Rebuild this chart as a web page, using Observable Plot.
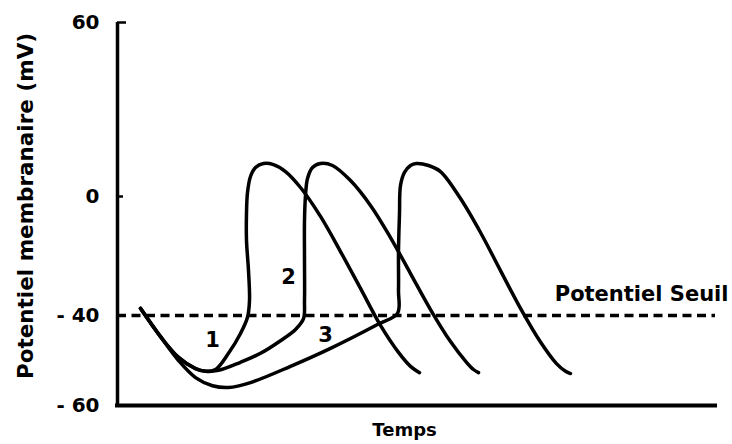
<!DOCTYPE html>
<html>
<head>
<meta charset="utf-8">
<script src="https://cdn.jsdelivr.net/npm/d3@7"></script>
<script src="https://cdn.jsdelivr.net/npm/@observablehq/plot@0.6"></script>
<style>
  html, body { margin: 0; padding: 0; background: white; }
</style>
</head>
<body>
<script>
// Time (arbitrary units) and membrane potential (mV) for the three curves
const time1 = [23, 43, 61, 78, 88, 98, 111, 123, 130, 132, 131, 129, 129, 130, 133, 138, 146, 156, 168, 183, 203, 223, 243, 263, 281, 293, 302];
const volt1 = [-37.6, -44.7, -49.3, -51.8, -52.4, -52.0, -48.4, -44.0, -40.4, -35.0, -24.9, -14.8, -5.7, 1.4, 6.9, 10.0, 11.4, 11.0, 8.6, 3.1, -6.7, -18.5, -30.9, -42.2, -48.2, -51.3, -52.7];

const time2 = [23, 43, 61, 78, 88, 101, 123, 143, 163, 178, 186, 187, 187, 187, 188, 190, 195, 203, 215, 233, 253, 273, 293, 313, 333, 349, 356, 361];
const volt2 = [-37.6, -44.7, -49.3, -51.8, -52.4, -52.2, -50.4, -48.4, -45.6, -43.1, -40.7, -35.0, -21.5, -8.1, 0.3, 6.2, 10.0, 11.4, 10.7, 5.5, -3.0, -13.8, -25.9, -38.0, -45.8, -50.4, -52.0, -52.7];

const time3 = [23, 43, 61, 78, 95, 111, 133, 173, 213, 260, 280, 281, 281, 282, 283, 287, 293, 299, 311, 323, 343, 363, 383, 403, 423, 439, 448, 453];
const volt3 = [-37.6, -44.7, -50.0, -53.8, -55.6, -56.0, -54.9, -51.3, -47.3, -42.0, -39.3, -31.6, -18.2, -5.7, 3.8, 8.3, 10.7, 11.4, 10.7, 8.6, -0.7, -12.1, -24.9, -37.6, -45.9, -50.7, -52.4, -52.9];

// Curve labels
const curveNames = ["1", "2", "3"];
const curveLabelT = [95, 171, 208];
const curveLabelV = [-45.6, -27.2, -44.4];

// Axis ticks (the original axis is not evenly spaced)
const yTicks = [-60, -40, 0, 60];
const yTickLabels = ["- 60", "- 40", "0", "60"];
const yInnerTicks = [60, 0];
const yInnerTickEnd = [9, 6];
const thresholdValue = -40;
const thresholdLabel = "Potentiel Seuil";
const xTitle = "Temps";
const yTitle = "Potentiel membranaire (mV)";

// The drawing's y axis is piecewise: its tick values sit at these relative heights
const axisStops = [0, 90, 209, 383];
const warp = d3.scaleLinear().domain(yTicks).range(axisStops);

const rows = [];
[[time1, volt1, "1"], [time2, volt2, "2"], [time3, volt3, "3"]].forEach(([ts, vs, name]) => {
  ts.forEach((t, i) => rows.push({curve: name, t, v: warp(vs[i])}));
});
const labels = curveNames.map((n, i) => ({n, t: curveLabelT[i], v: warp(curveLabelV[i])}));
const innerTicks = yInnerTicks.map((v, i) => ({v: warp(v), end: yInnerTickEnd[i]}));
const tickPos = yTicks.map(warp);

const chart = Plot.plot({
  width: 732,
  height: 444,
  marginLeft: 117,
  marginRight: 17,
  marginTop: 22,
  marginBottom: 39,
  style: {fontFamily: "DejaVu Sans", background: "white", color: "black", overflow: "visible"},
  x: {domain: [0, 598], axis: null},
  y: {domain: [warp(-60), warp(60)], axis: null},
  marks: [
    Plot.ruleY([warp(thresholdValue)], {stroke: "black", strokeWidth: 3.5, strokeDasharray: "9,5.5"}),
    Plot.line(rows, {x: "t", y: "v", z: "curve", curve: "catmull-rom", stroke: "black", strokeWidth: 3.5, strokeLinecap: "round", strokeLinejoin: "round"}),
    Plot.ruleX([0], {stroke: "black", strokeWidth: 3.5}),
    Plot.ruleY([warp(-60)], {stroke: "black", strokeWidth: 4, strokeLinecap: "square"}),
    Plot.ruleY(innerTicks, {y: "v", x1: 0, x2: "end", stroke: "black", strokeWidth: 2.5}),
    Plot.axisY({
      ticks: tickPos,
      tickSize: 0,
      tickPadding: 18,
      tickFormat: (d) => yTickLabels[tickPos.indexOf(d)],
      fontSize: 20,
      fontWeight: "bold",
      label: null
    }),
    Plot.text(labels, {x: "t", y: "v", text: "n", fontSize: 21, fontWeight: "bold", fill: "black"}),
    Plot.text([{label: thresholdLabel, v: warp(thresholdValue)}], {y: "v", text: "label", frameAnchor: "right", textAnchor: "end", dx: 13, dy: -21, fontSize: 21, fontWeight: "bold", fill: "black"}),
    Plot.text([xTitle], {frameAnchor: "bottom", textAnchor: "middle", dx: -12, dy: 30, fontSize: 18, fontWeight: "bold", fill: "black"}),
    Plot.text([yTitle], {frameAnchor: "left", textAnchor: "middle", rotate: -90, dx: -91, dy: -8, fontSize: 21.5, fontWeight: "bold", fill: "black"})
  ]
});
document.body.appendChild(chart);
</script>
</body>
</html>
